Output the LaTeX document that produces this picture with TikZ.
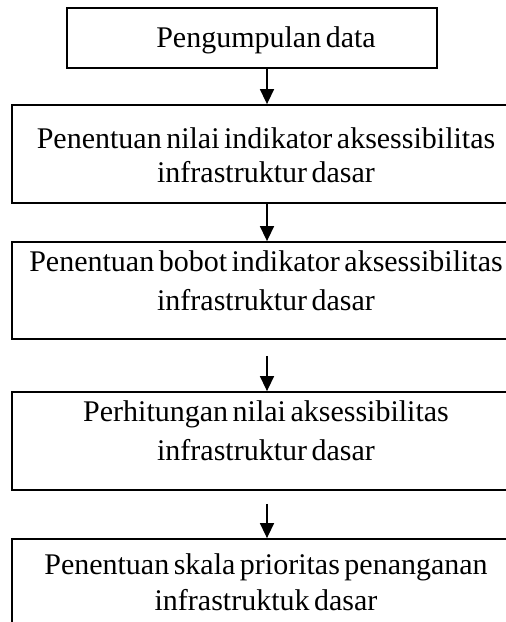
\documentclass[tikz,border=0pt]{standalone}
\usepackage{fontspec}
\setmainfont{Liberation Serif}[WordSpace=0.6]
\usetikzlibrary{arrows.meta}
\begin{document}
\begin{tikzpicture}[x=1pt,y=-1pt,
  boxstyle/.style={draw=black, line width=1.8pt, rectangle, inner sep=0pt},
  txt/.style={anchor=base, inner sep=0pt, font=\fontsize{30}{36}\selectfont},
  flow/.style={draw=black, line width=1.5pt, -{Triangle[length=15pt,width=14pt]}}]
\useasboundingbox (0,0) rectangle (506,622);
\clip (0,0) rectangle (506,622);
\coordinate (ax) at (267,0);
% boxes
\node[boxstyle, minimum width=370pt, minimum height=60pt] (b1) at (252,38) {};
\node[boxstyle, minimum width=510pt, minimum height=98pt] (b2) at (267,154) {};
\node[boxstyle, minimum width=510pt, minimum height=97pt] (b3) at (267,290.5) {};
\node[boxstyle, minimum width=510pt, minimum height=98pt] (b4) at (267,441) {};
\node[boxstyle, minimum width=510pt, minimum height=110pt] (b5) at (267,594) {};
% texts
\node[txt] (t1) at (266,47) {Pengumpulan data};
\node[txt] (t2a) at (266,148) {Penentuan nilai indikator aksessibilitas};
\node[txt] (t2b) at (266,182) {infrastruktur dasar};
\node[txt] (t3a) at (266,271) {Penentuan bobot indikator aksessibilitas};
\node[txt] (t3b) at (266,310) {infrastruktur dasar};
\node[txt] (t4a) at (266,421) {Perhitungan nilai aksessibilitas};
\node[txt] (t4b) at (266,460) {infrastruktur dasar};
\node[txt] (t5a) at (266,574) {Penentuan skala prioritas penanganan};
\node[txt] (t5b) at (266,610) {infrastruktuk dasar};
% arrows
\draw[flow] (b1.south -| ax) -- (b2.north -| ax);
\draw[flow] (b2.south -| ax) -- (b3.north -| ax);
\draw[flow, shorten <=16pt] (b3.south -| ax) -- (b4.north -| ax);
\draw[flow, shorten <=13pt] (b4.south -| ax) -- (b5.north -| ax);
\end{tikzpicture}
\end{document}
